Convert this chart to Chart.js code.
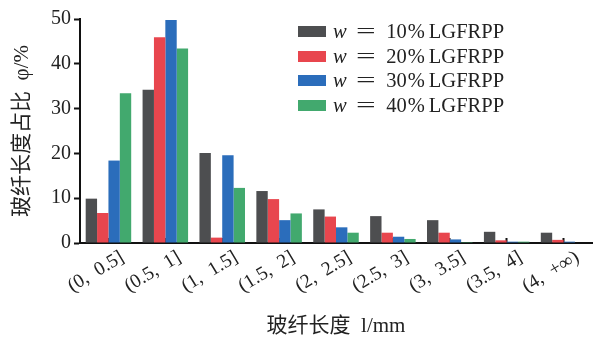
<!DOCTYPE html>
<html>
<head>
<script src="https://cdn.jsdelivr.net/npm/chart.js"></script>
<style>
  body { margin: 0; background: #fff; }
  #wrap { position: relative; width: 594px; height: 338px; }
  #legend { position: absolute; left: 298px; top: 19px; font-family: "Liberation Serif", "DejaVu Serif", serif; font-size: 20.5px; color: #222; }
  #legend div { height: 24.7px; line-height: 24.7px; white-space: nowrap; }
  #legend span.box { display: inline-block; width: 28px; height: 11px; margin-right: 7px; vertical-align: 1px; }
  #legend span.eq { display: inline-block; transform: scaleX(1.7); margin: 0 15px 0 13px; }
  #legend span.pc { margin: 0 4px 0 1px; }
</style>
</head>
<body>
<div id="wrap">
  <canvas id="chart" width="594" height="338"></canvas>
  <div id="legend"></div>
</div>
<script>
// categories (fibre length ranges)
const categories = ['(0,  0.5]', '(0.5,  1]', '(1,  1.5]', '(1.5,  2]', '(2,  2.5]', '(2.5,  3]', '(3,  3.5]', '(3.5,  4]', '(4,  +∞)'];
const seriesNames = ['10', '20', '30', '40'];
const w10 = [9.9, 34.2, 20.1, 11.6, 7.5, 6.0, 5.1, 2.5, 2.3];
const w20 = [6.7, 45.9, 1.2, 9.8, 5.9, 2.3, 2.3, 0.6, 0.7];
const w30 = [18.4, 49.8, 19.6, 5.1, 3.5, 1.4, 0.8, 0.3, 0.3];
const w40 = [33.4, 43.4, 12.3, 6.6, 2.3, 0.9, 0.2, 0.3, 0.0];
const colors = ['#4d4e50', '#e8464e', '#2b6dbb', '#42a96e'];
const yTicks = [0, 10, 20, 30, 40, 50];

const serif = '"Liberation Serif", "DejaVu Serif", serif';
const mixed = '"Liberation Serif", "Noto Sans CJK SC", serif';

const values = [w10, w20, w30, w40];
const datasets = values.map((v, i) => ({
  label: 'w = ' + seriesNames[i] + '%LGFRPP',
  data: v,
  backgroundColor: colors[i],
  borderWidth: 0
}));

new Chart(document.getElementById('chart'), {
  type: 'bar',
  data: { labels: categories, datasets: datasets },
  options: {
    responsive: false,
    animation: false,
    layout: { padding: { top: 19, right: 2, left: 6, bottom: 0 } },
    plugins: { legend: { display: false }, tooltip: { enabled: false } },
    datasets: { bar: { categoryPercentage: 0.8, barPercentage: 1.0 } },
    scales: {
      x: {
        afterFit: s => { s.height = 95; },
        grid: { drawOnChartArea: false, offset: false, tickLength: -5, color: '#111', tickWidth: 2 },
        border: { color: '#111', width: 2 },
        ticks: { font: { family: serif, size: 19.5 }, color: '#222', minRotation: 31, maxRotation: 31, padding: 8, labelOffset: 14 },
        title: { display: true, text: '玻纤长度  l/mm', font: { family: mixed, size: 21, lineHeight: 1.0 }, color: '#222', padding: { top: 4, bottom: 1 } }
      },
      y: {
        min: 0, max: 50,
        afterFit: s => { s.width = 74; },
        afterBuildTicks: s => { s.ticks = yTicks.map(v => ({ value: v })); },
        grid: { drawOnChartArea: false, tickLength: 6, color: '#111', tickWidth: 2 },
        border: { color: '#111', width: 2 },
        ticks: { font: { family: serif, size: 20 }, color: '#222', padding: 3 },
        title: { display: true, text: '玻纤长度占比  φ/%', font: { family: mixed, size: 21 }, color: '#222', padding: { top: 4, bottom: 0 } }
      }
    }
  }
});

document.getElementById('legend').innerHTML = seriesNames.map((n, i) =>
  '<div><span class="box" style="background:' + colors[i] + '"></span><i>w</i><span class="eq">=</span>' + n + '<span class="pc">%</span>LGFRPP</div>'
).join('');
</script>
</body>
</html>
